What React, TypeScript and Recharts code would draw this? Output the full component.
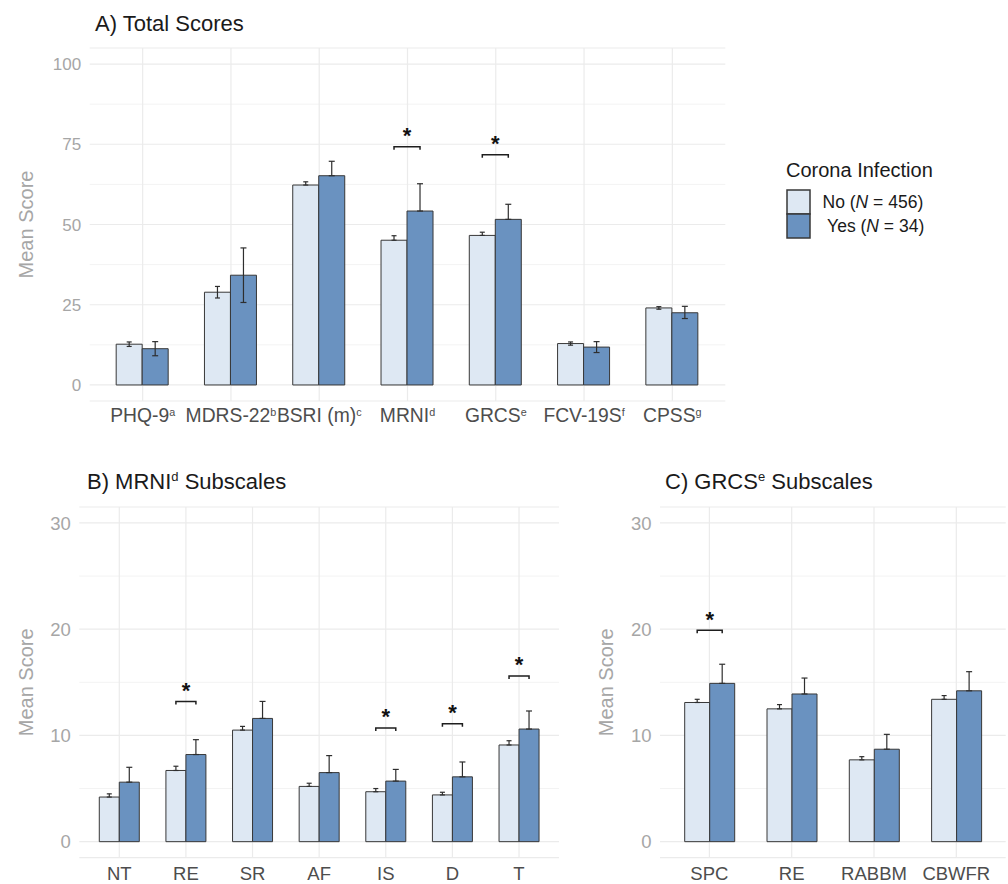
import React from "react";
import {
  BarChart,
  Bar,
  XAxis,
  YAxis,
  CartesianGrid,
  ReferenceLine,
  ErrorBar,
  Legend,
  Rectangle,
} from "recharts";

const FONT = '"Liberation Sans", Arial, Helvetica, sans-serif';

// groups
const groupNames = ["No", "Yes"];
const groupN = [456, 34];
const noFill = "#dee8f3";
const yesFill = "#6a92c0";
const outline = "#383838";

// A) Total Scores
const totalCats = ["PHQ-9", "MDRS-22", "BSRI (m)", "MRNI", "GRCS", "FCV-19S", "CPSS"];
const totalSups = ["a", "b", "c", "d", "e", "f", "g"];
const totalNo = [12.7, 28.9, 62.3, 45.1, 46.6, 12.9, 24.0];
const totalNoLow = [0.7, 1.8, 0, 0, 0, 0.5, 0.4];
const totalNoHigh = [0.7, 1.8, 1.0, 1.4, 1.0, 0.5, 0.4];
const totalYes = [11.3, 34.2, 65.2, 54.2, 51.6, 11.8, 22.5];
const totalYesLow = [2.2, 8.5, 0, 0, 0, 1.7, 1.8];
const totalYesHigh = [2.2, 8.5, 4.5, 8.5, 4.7, 1.7, 2.0];
const totalSig = [null, null, null, 74.2, 71.7, null, null];

// B) MRNI subscales
const mrniCats = ["NT", "RE", "SR", "AF", "IS", "D", "T"];
const mrniNo = [4.2, 6.7, 10.5, 5.2, 4.7, 4.4, 9.1];
const mrniNoHigh = [0.3, 0.4, 0.35, 0.3, 0.3, 0.25, 0.4];
const mrniYes = [5.6, 8.2, 11.6, 6.5, 5.7, 6.1, 10.6];
const mrniYesHigh = [1.4, 1.4, 1.6, 1.6, 1.1, 1.4, 1.7];
const mrniSig = [null, 13.2, null, null, 10.7, 11.1, 15.6];

// C) GRCS subscales
const grcsCats = ["SPC", "RE", "RABBM", "CBWFR"];
const grcsNo = [13.1, 12.5, 7.7, 13.4];
const grcsNoHigh = [0.3, 0.4, 0.3, 0.35];
const grcsYes = [14.9, 13.9, 8.7, 14.2];
const grcsYesHigh = [1.8, 1.5, 1.4, 1.8];
const grcsSig = [19.9, null, null, null];

function buildRows(
  cats: string[],
  no: number[],
  noHigh: number[],
  yes: number[],
  yesHigh: number[],
  sig: (number | null)[],
  noLow?: number[],
  yesLow?: number[]
) {
  return cats.map((cat, i) => ({
    cat,
    no: no[i],
    yes: yes[i],
    noErr: [noLow ? noLow[i] : 0, noHigh[i]],
    yesErr: [yesLow ? yesLow[i] : 0, yesHigh[i]],
    sig: sig[i],
  }));
}

const totalRows = buildRows(totalCats, totalNo, totalNoHigh, totalYes, totalYesHigh, totalSig, totalNoLow, totalYesLow);
const mrniRows = buildRows(mrniCats, mrniNo, mrniNoHigh, mrniYes, mrniYesHigh, mrniSig);
const grcsRows = buildRows(grcsCats, grcsNo, grcsNoHigh, grcsYes, grcsYesHigh, grcsSig);

// Yes bar plus the significance bracket spanning both bars of the category
const SigBar = (props: any) => {
  const { x, y, width, height, payload, fill, stroke } = props;
  const base = y + height;
  const ppu = height / payload.yes;
  let bracket = null;
  if (payload.sig != null) {
    const by = base - payload.sig * ppu;
    const x1 = x - width / 2;
    const x2 = x + width / 2;
    bracket = (
      <g>
        <path
          d={`M${x1},${by + 3} V${by} H${x2} V${by + 3}`}
          fill="none"
          stroke="#1e1e1e"
          strokeWidth={1.5}
        />
        <text
          x={x}
          y={by - 3.5}
          textAnchor="middle"
          fontSize={22}
          fontWeight="bold"
          fontFamily={FONT}
          fill="#111"
        >
          *
        </text>
      </g>
    );
  }
  return (
    <g>
      <Rectangle x={x} y={y} width={width} height={height} fill={fill} stroke={stroke} strokeWidth={1} />
      {bracket}
    </g>
  );
};

const CatTick = (props: any) => {
  const { x, y, payload, sups, cats, fontSize, dy } = props;
  const idx = cats.indexOf(payload.value);
  const sup = sups ? sups[idx] : null;
  return (
    <text x={x} y={y + dy} textAnchor="middle" fontSize={fontSize} fontFamily={FONT} fill="#4d4d4d">
      {payload.value}
      {sup && (
        <tspan fontSize={fontSize * 0.56} dy={-fontSize * 0.3}>
          {sup}
        </tspan>
      )}
    </text>
  );
};

const YTitle = (props: any) => {
  const vb = props.viewBox || {};
  const cx = (vb.x || 0) + 33;
  const cy = (vb.y || 0) + (vb.height || 0) / 2;
  return (
    <text
      x={cx}
      y={cy}
      transform={`rotate(-90 ${cx} ${cy})`}
      textAnchor="middle"
      fontSize={20}
      fontFamily={FONT}
      fill="#a6a6a6"
    >
      Mean Score
    </text>
  );
};

const LegendBox = (props: any) => {
  const payload = props.payload || [];
  return (
    <svg width={240} height={100} style={{ display: "block", overflow: "visible" }}>
      <text x={46} y={27.3} fontSize={20} fontFamily={FONT} fill="#1a1a1a">
        Corona Infection
      </text>
      {payload.map((e: any, i: number) => {
        const gi = groupNames.indexOf(e.value);
        return (
          <g key={e.value}>
            <rect x={47} y={40 + i * 24} width={23} height={24} fill={e.color} stroke={outline} strokeWidth={1.5} />
            <text x={82.5 + i * 4.6} y={57.7 + i * 24.6} fontSize={17.5} fontFamily={FONT} fill="#1a1a1a">
              {e.value} (<tspan fontStyle="italic">N</tspan> = {groupN[gi]})
            </text>
          </g>
        );
      })}
    </svg>
  );
};

type PanelProps = {
  rows: any[];
  cats: string[];
  sups?: string[];
  width: number;
  height: number;
  margin: { top: number; right: number; bottom: number; left: number };
  yWidth: number;
  xHeight: number;
  pad: number;
  domain: [number, number];
  ticks: number[];
  minor: number[];
  fontSize: number;
  yFontSize: number;
  labelDy: number;
  legend?: boolean;
};

function Panel(p: PanelProps) {
  return (
    <BarChart
      width={p.width}
      height={p.height}
      data={p.rows}
      margin={p.margin}
      barGap={0}
      barCategoryGap="20%"
    >
      <CartesianGrid vertical={false} horizontalValues={p.minor} stroke="#f3f3f3" strokeWidth={1} />
      <CartesianGrid vertical={false} stroke="#ebebeb" strokeWidth={1.2} />
      {p.cats.map((c) => (
        <ReferenceLine key={"v" + c} x={c} stroke="#ebebeb" strokeWidth={1.2} zIndex={-100} />
      ))}
      <XAxis
        dataKey="cat"
        interval={0}
        axisLine={false}
        tickLine={false}
        tickSize={0}
        tickMargin={0}
        height={p.xHeight}
        padding={{ left: p.pad, right: p.pad }}
        tick={(t: any) => (
          <CatTick {...t} cats={p.cats} sups={p.sups} fontSize={p.fontSize} dy={p.labelDy} />
        )}
      />
      <YAxis
        width={p.yWidth}
        domain={p.domain}
        ticks={p.ticks}
        interval={0}
        axisLine={false}
        tickLine={false}
        tickSize={0}
        tickMargin={8.5}
        tick={{ fontSize: p.yFontSize, fill: "#a6a6a6", fontFamily: FONT }}
        label={{ content: YTitle }}
      />
      <Bar
        dataKey="no"
        name={groupNames[0]}
        fill={noFill}
        stroke={outline}
        strokeWidth={1}
        isAnimationActive={false}
      >
        <ErrorBar dataKey="noErr" width={2.5} stroke="#2e2e2e" strokeWidth={1.2} />
      </Bar>
      <Bar
        dataKey="yes"
        name={groupNames[1]}
        fill={yesFill}
        stroke={outline}
        strokeWidth={1}
        isAnimationActive={false}
        shape={SigBar}
      >
        <ErrorBar dataKey="yesErr" width={3} stroke="#2e2e2e" strokeWidth={1.2} />
      </Bar>
      {p.legend && (
        <Legend
          layout="horizontal"
          verticalAlign="middle"
          align="center"
          wrapperStyle={{ left: 740, top: 150, width: 240, height: 100 }}
          content={(lp: any) => <LegendBox {...lp} />}
        />
      )}
    </BarChart>
  );
}

const Title = ({ x, y, main, sup, rest }: { x: number; y: number; main: string; sup?: string; rest?: string }) => (
  <text x={x} y={y} fontSize={22} fontFamily={FONT} fill="#1a1a1a">
    {main}
    {sup && (
      <tspan fontSize={13} dy={-8}>
        {sup}
      </tspan>
    )}
    {rest && <tspan dy={sup ? 8 : 0}>{rest}</tspan>}
  </text>
);

export default function App() {
  return (
    <div
      style={{
        position: "absolute",
        left: 0,
        top: 0,
        width: 1008,
        height: 884,
        background: "#ffffff",
        overflow: "hidden",
      }}
    >
      <svg width={1008} height={884} style={{ position: "absolute", left: 0, top: 0 }}>
        <Title x={95} y={30.7} main="A) Total Scores" />
        <Title x={87} y={488.5} main="B) MRNI" sup="d" rest=" Subscales" />
        <Title x={665} y={488.5} main="C) GRCS" sup="e" rest=" Subscales" />
      </svg>
      <div style={{ position: "absolute", left: 0, top: 0 }}>
        <Panel
          rows={totalRows}
          cats={totalCats}
          sups={totalSups}
          width={1008}
          height={440}
          margin={{ top: 48, right: 282.7, bottom: 0, left: 0 }}
          yWidth={89.7}
          xHeight={39}
          pad={8.83}
          domain={[-5, 105]}
          ticks={[0, 25, 50, 75, 100]}
          minor={[12.5, 37.5, 62.5, 87.5]}
          fontSize={19.3}
          yFontSize={17}
          labelDy={21}
          legend
        />
      </div>
      <div style={{ position: "absolute", left: 0, top: 460 }}>
        <Panel
          rows={mrniRows}
          cats={mrniCats}
          width={580}
          height={424}
          margin={{ top: 47, right: 21, bottom: 0, left: 0 }}
          yWidth={79.3}
          xHeight={26.4}
          pad={6.66}
          domain={[-1.5, 31.5]}
          ticks={[0, 10, 20, 30]}
          minor={[5, 15, 25]}
          fontSize={18.5}
          yFontSize={18.5}
          labelDy={22.4}
        />
      </div>
      <div style={{ position: "absolute", left: 580, top: 460 }}>
        <Panel
          rows={grcsRows}
          cats={grcsCats}
          width={428}
          height={424}
          margin={{ top: 47, right: 2.3, bottom: 0, left: 0 }}
          yWidth={80}
          xHeight={26.4}
          pad={8.23}
          domain={[-1.5, 31.5]}
          ticks={[0, 10, 20, 30]}
          minor={[5, 15, 25]}
          fontSize={18.5}
          yFontSize={18.5}
          labelDy={22.4}
        />
      </div>
    </div>
  );
}
